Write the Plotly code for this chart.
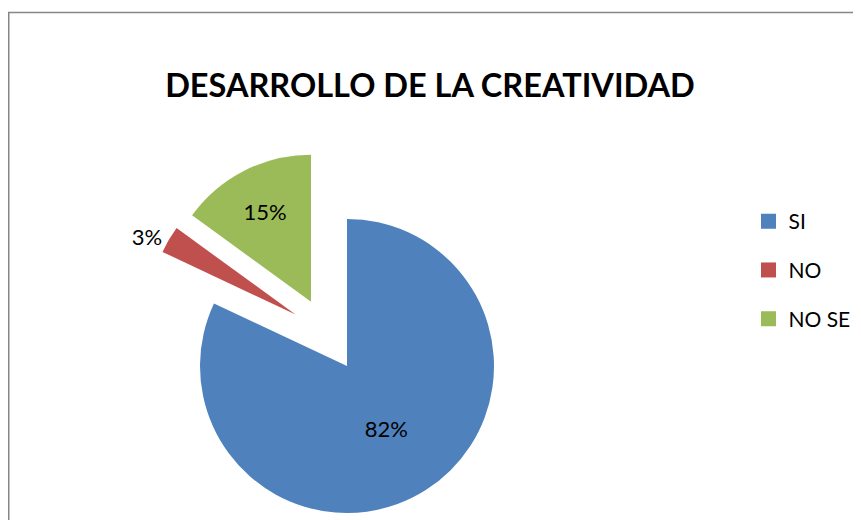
import plotly.graph_objects as go

# ---- data ----
categories = ["SI", "NO", "NO SE"]
values = [82, 3, 15]
colors = ["#4F81BD", "#C0504D", "#9BBB59"]
title_text = "DESARROLLO DE LA CREATIVIDAD"

# ---- layout constants (pixels, in page coordinates of the 861x520 view) ----
OFF = 8                      # default body margin of the html page
W, H = 861 - OFF, 520 - OFF  # figure size so that it fits the window
CX, CY, R = 347 - OFF, 366 - OFF, 147
# explosion offset of each slice (px) relative to the pie centre
offsets = {"SI": (0.0, 0.0), "NO": (-51.5, -51.5), "NO SE": (-36.0, -64.3)}
label_pos = {"SI": "inside", "NO": "outside", "NO SE": "inside"}
FONT = "Lato, Calibri, Arial, sans-serif"

fig = go.Figure()
n = len(categories)
for i, cat in enumerate(categories):
    dx, dy = offsets[cat]
    cx, cy = CX + dx, CY + dy
    fig.add_trace(go.Pie(
        labels=categories,
        values=values,
        sort=False,
        direction="clockwise",
        rotation=0,
        marker=dict(colors=[c if j == i else "rgba(0,0,0,0)" for j, c in enumerate(colors)],
                    line=dict(width=0)),
        texttemplate=["%{percent:.0%}" if j == i else "" for j in range(n)],
        textposition=[label_pos[cat] if j == i else "none" for j in range(n)],
        insidetextorientation="horizontal",
        textfont=dict(family=FONT, size=22, color="black"),
        domain=dict(x=[(cx - R) / W, (cx + R) / W], y=[1 - (cy + R) / H, 1 - (cy - R) / H]),
        showlegend=False,
        hoverinfo="label+percent",
    ))

# legend entries
for cat, col in zip(categories, colors):
    fig.add_trace(go.Scatter(
        x=[None], y=[None], mode="markers", name=cat, legendgroup=cat,
        marker=dict(symbol="square", size=15, color=col),
        showlegend=True, hoverinfo="skip",
    ))

fig.update_layout(
    width=W, height=H,
    margin=dict(l=0, r=0, t=0, b=0),
    paper_bgcolor="white", plot_bgcolor="white",
    xaxis=dict(visible=False), yaxis=dict(visible=False),
    title=dict(text=title_text, x=(430 - OFF) / W, xanchor="center",
               y=1 - (85.5 - OFF) / H, yanchor="middle",
               font=dict(family=FONT, size=32.5, color="black", weight="bold")),
    legend=dict(x=(748.5 - OFF) / W, xanchor="left", y=1 - (201 - OFF) / H, yanchor="top",
                font=dict(family=FONT, size=21, color="black"),
                tracegroupgap=18.5, bgcolor="rgba(0,0,0,0)"),
    shapes=[dict(type="rect", xref="paper", yref="paper",
                 x0=0.75 / W, x1=1.05, y0=-0.05, y1=1 - (12.5 - OFF) / H,
                 line=dict(color="#868686", width=1.5), fillcolor="rgba(0,0,0,0)", layer="below")],
)

fig.write_html("out.html")
